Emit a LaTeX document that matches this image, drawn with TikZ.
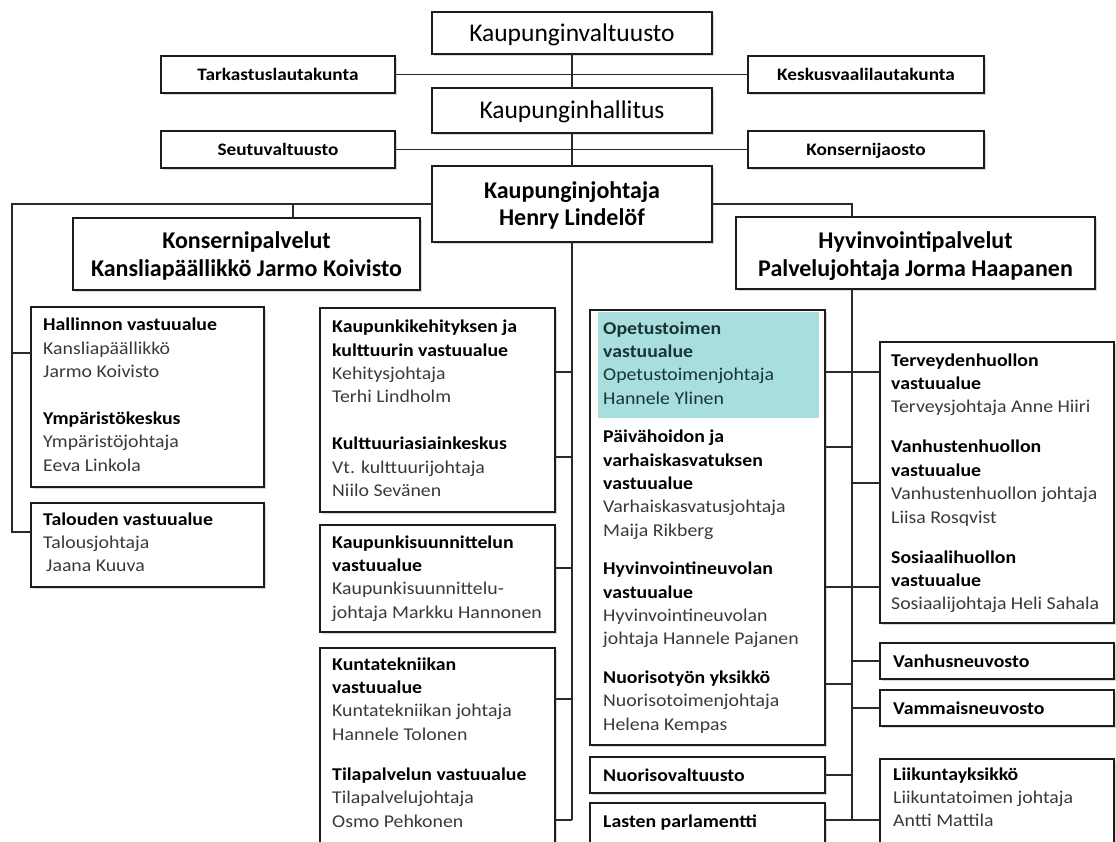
\documentclass[tikz,border=0pt]{standalone}
\usepackage{fontspec}
\setmainfont{Carlito}
\newfontfamily\bodyfont{Carlito}[FakeStretch=1.1]
\usetikzlibrary{shadows}
\definecolor{lnc}{HTML}{2A2A2A}
\definecolor{boxc}{HTML}{1C1C1C}
\definecolor{txtc}{HTML}{3A3A3A}
\definecolor{opfillc}{HTML}{A9DEDE}
\definecolor{optxt}{HTML}{173535}
\newcommand\bt[1]{{\color{black}\bfseries #1}}
\newcommand\ot[1]{{\color{optxt}#1}}
\newcommand\tb[1]{\parbox[t]{215pt}{\leavevmode #1}}
\begin{document}
\begin{tikzpicture}[x=1pt,y=-1pt,
  box/.style={draw=boxc, line width=1.7pt, fill=white, rectangle, anchor=north west,
    inner sep=0pt, outer sep=0pt,
    drop shadow={shadow xshift=1.5pt, shadow yshift=-1.5pt, opacity=0.3}},
  conn/.style={draw=lnc, line width=1.3pt},
  body/.style={anchor=base west, inner sep=0pt, text=txtc,
    font=\bodyfont\fontsize{18}{23.4}\selectfont},
  small/.style={anchor=base, inner sep=0pt, text=black,
    font=\bodyfont\fontsize{17.5}{21}\selectfont\bfseries},
  large/.style={anchor=base, inner sep=0pt, text=black,
    font=\fontsize{25.5}{30}\selectfont},
  bigbold/.style={anchor=base, inner sep=0pt, text=black,
    font=\fontsize{24}{28}\selectfont\bfseries}
]
\useasboundingbox[fill=white] (0,0) rectangle (1116,841);

% ---------- boxes ----------
\node[box, minimum width=280pt, minimum height=42pt] (kv) at (432,12) {};
\node[box, minimum width=234pt, minimum height=37pt] (tark) at (161,56) {};
\node[box, minimum width=236pt, minimum height=37pt] (kesk) at (748,56) {};
\node[box, minimum width=280pt, minimum height=45pt] (kh) at (432,88) {};
\node[box, minimum width=234pt, minimum height=37pt] (seut) at (161,131) {};
\node[box, minimum width=236pt, minimum height=37pt] (konj) at (748,131) {};
\node[box, minimum width=280pt, minimum height=76pt] (kj) at (432,166) {};
\node[box, minimum width=347pt, minimum height=72pt] (konp) at (73,218) {};
\node[box, minimum width=359pt, minimum height=72pt] (hyv) at (736,217) {};
\node[box, minimum width=233pt, minimum height=180pt] (hall) at (31,307) {};
\node[box, minimum width=233pt, minimum height=84pt] (tal) at (31,503) {};
\node[box, minimum width=235pt, minimum height=204pt] (kke) at (320,308) {};
\node[box, minimum width=235pt, minimum height=107pt] (ksu) at (320,525) {};
\node[box, minimum width=235pt, minimum height=215pt] (kte) at (320,648) {};
\node[box, minimum width=235pt, minimum height=435pt] (opet) at (590,310) {};
\node[fill=opfillc, anchor=north west, inner sep=0pt, outer sep=0pt,
      minimum width=221pt, minimum height=106pt] (opfill) at (598,312) {};
\node[box, minimum width=235pt, minimum height=36pt] (nval) at (590,757) {};
\node[box, minimum width=235pt, minimum height=60pt] (lpar) at (590,803) {};
\node[box, minimum width=234pt, minimum height=281pt] (terv) at (880,342) {};
\node[box, minimum width=234pt, minimum height=36pt] (vneu) at (880,643) {};
\node[box, minimum width=234pt, minimum height=36pt] (vamm) at (880,690) {};
\node[box, minimum width=234pt, minimum height=100pt] (liik) at (880,759) {};

% ---------- junction coordinates ----------
\coordinate (jl) at (12,204);
\coordinate (jlb) at (12,532);
\coordinate (kpx) at (293,204);
\coordinate (jr) at (852,204);
\coordinate (cb) at (572,820);
\coordinate (rb) at (852,820);

% ---------- connectors ----------
\draw[conn] (kv.south) -- (kh.north);
\draw[conn] (tark.east) -- (kesk.west);
\draw[conn] (kh.south) -- (kj.north);
\draw[conn] (seut.east) -- (konj.west);
\draw[conn] (kj.west) -- (jl) -- (jlb) -- (tal.west |- jlb);
\draw[conn] (jl |- 0,353) -- (hall.west |- 0,353);
\draw[conn] (kpx) -- (konp.north -| kpx);
\draw[conn] (kj.east) -- (jr) -- (hyv.north -| jr);
\draw[conn] (kj.south) -- (cb);
\draw[conn] (kke.east |- 0,372) -- (cb |- 0,372);
\draw[conn] (kke.east |- 0,457) -- (cb |- 0,457);
\draw[conn] (ksu.east |- 0,568) -- (cb |- 0,568);
\draw[conn] (kte.east |- 0,699) -- (cb |- 0,699);
\draw[conn] (kte.east |- 0,820) -- (cb);
\draw[conn] (hyv.south -| rb) -- (rb);
\draw[conn] (opet.east |- 0,372) -- (terv.west |- 0,372);
\draw[conn] (opet.east |- 0,447) -- (rb |- 0,447);
\draw[conn] (rb |- 0,483) -- (terv.west |- 0,483);
\draw[conn] (opet.east |- 0,587) -- (terv.west |- 0,587);
\draw[conn] (opet.east |- 0,684) -- (rb |- 0,684);
\draw[conn] (rb |- vneu.west) -- (vneu.west);
\draw[conn] (rb |- vamm.west) -- (vamm.west);
\draw[conn] (nval.east) -- (rb |- nval.east);
\draw[conn] (lpar.east |- rb) -- (liik.west |- rb);

% ---------- texts ----------
\node[large] (kvT) at (572,41.5) {Kaupunginvaltuusto};
\node[large] (khT) at (572,118.5) {Kaupunginhallitus};
\node[small] (tarkT) at (278,80.5) {Tarkastuslautakunta};
\node[small] (keskT) at (866,80.5) {Keskusvaalilautakunta};
\node[small] (seutT) at (278,155.5) {Seutuvaltuusto};
\node[small] (konjT) at (866,155.5) {Konsernijaosto};
\node[bigbold] (kjT) at (572,198) {\parbox[t]{280pt}{\centering\baselineskip=27pt Kaupunginjohtaja\\Henry Lindelöf}};
\node[bigbold] (konpT) at (246.5,248) {\parbox[t]{347pt}{\centering\baselineskip=28pt Konsernipalvelut\\Kansliapäällikkö Jarmo Koivisto}};
\node[bigbold] (hyvT) at (915.5,248) {\parbox[t]{359pt}{\centering\baselineskip=28pt Hyvinvointipalvelut\\Palvelujohtaja Jorma Haapanen}};

\node[body] (hallT) at (43,330.7) {\tb{\bt{Hallinnon vastuualue}\\ Kansliapäällikkö\\ Jarmo Koivisto\\[23.4pt] \bt{Ympäristökeskus}\\ Ympäristöjohtaja\\ Eeva Linkola}};
\node[body] (talT) at (43,525) {\tb{\bt{Talouden vastuualue}\\ Talousjohtaja\\ \hspace*{3pt}Jaana Kuuva}};
\node[body] (kkeT) at (332,332.7) {\tb{\bt{Kaupunkikehityksen ja}\\ \bt{kulttuurin vastuualue}\\ Kehitysjohtaja\\ Terhi Lindholm\\[23.4pt] \bt{Kulttuuriasiainkeskus}\\ Vt. kulttuurijohtaja\\ Niilo Sevänen}};
\node[body] (ksuT) at (332,548) {\tb{\bt{Kaupunkisuunnittelun}\\ \bt{vastuualue}\\ Kaupunkisuunnittelu-\\ johtaja Markku Hannonen}};
\node[body] (kteT) at (332,670) {\tb{\bt{Kuntatekniikan}\\ \bt{vastuualue}\\ Kuntatekniikan johtaja\\ Hannele Tolonen\\[16.6pt] \bt{Tilapalvelun vastuualue}\\ Tilapalvelujohtaja\\ Osmo Pehkonen}};
\node[body] (opetT) at (603,334) {\tb{\ot{\bfseries Opetustoimen}\\ \ot{\bfseries vastuualue}\\ \ot{Opetustoimenjohtaja}\\ \ot{Hannele Ylinen}\\[15pt] \bt{Päivähoidon ja}\\ \bt{varhaiskasvatuksen}\\ \bt{vastuualue}\\ Varhaiskasvatusjohtaja\\ Maija Rikberg\\[15pt] \bt{Hyvinvointineuvolan}\\ \bt{vastuualue}\\ Hyvinvointineuvolan\\ johtaja Hannele Pajanen\\[15pt] \bt{Nuorisotyön yksikkö}\\ Nuorisotoimenjohtaja\\ Helena Kempas}};
\node[body] (nvalT) at (603,781) {\bt{Nuorisovaltuusto}};
\node[body] (lparT) at (603,827) {\bt{Lasten parlamentti}};
\node[body] (tervT) at (891,366) {\tb{\bt{Terveydenhuollon}\\ \bt{vastuualue}\\ Terveysjohtaja Anne Hiiri\\[16.6pt] \bt{Vanhustenhuollon}\\ \bt{vastuualue}\\ Vanhustenhuollon johtaja\\ Liisa Rosqvist\\[16.6pt] \bt{Sosiaalihuollon}\\ \bt{vastuualue}\\ Sosiaalijohtaja Heli Sahala}};
\node[body] (vneuT) at (893,667) {\bt{Vanhusneuvosto}};
\node[body] (vammT) at (893,714) {\bt{Vammaisneuvosto}};
\node[body] (liikT) at (893,780) {\tb{\bt{Liikuntayksikkö}\\ Liikuntatoimen johtaja\\ Antti Mattila}};
\end{tikzpicture}
\end{document}
